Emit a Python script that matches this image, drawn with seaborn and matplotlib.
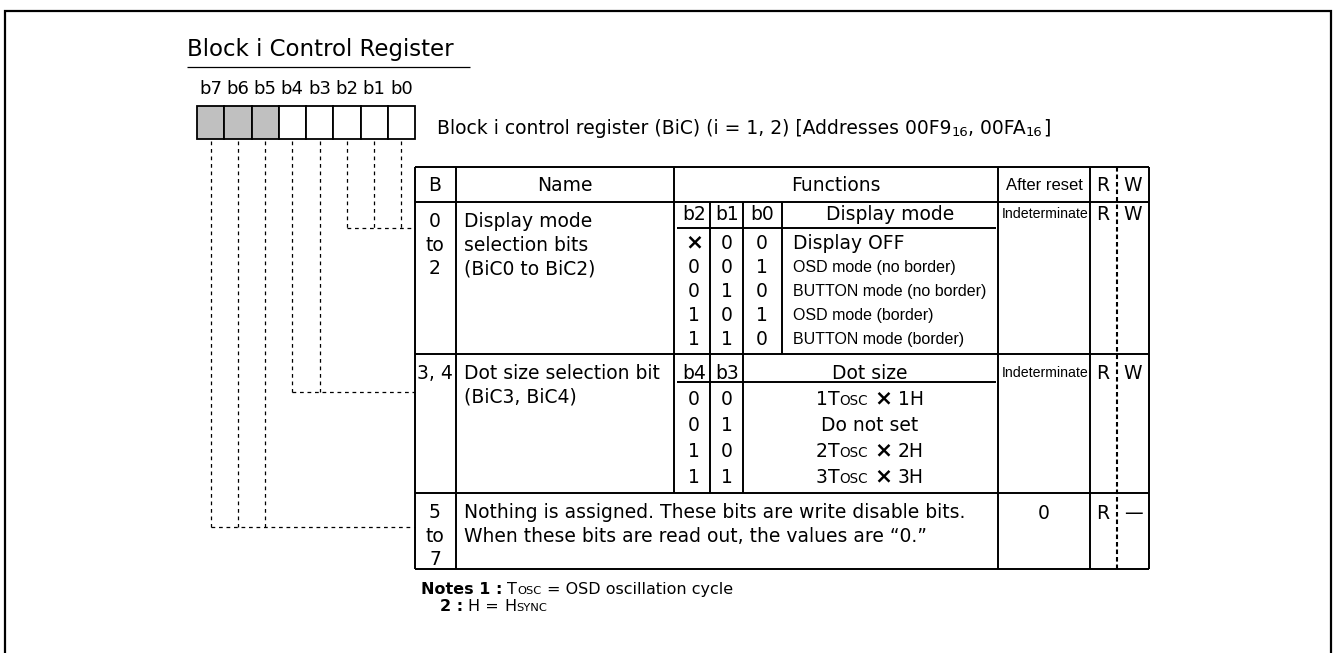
import re
import matplotlib
matplotlib.use("Agg")
import matplotlib.pyplot as plt
import seaborn as sns

sns.set_style("white")
plt.rcParams["font.family"] = ["DejaVu Sans"]

# ---- content of the register sheet ----
title = "Block i Control Register"
description = "Block i control register (BiC) (i = 1, 2) [Addresses 00F9{16}, 00FA{16}]"
bit_labels = ["b7", "b6", "b5", "b4", "b3", "b2", "b1", "b0"]
bit_reserved = [1, 1, 1, 0, 0, 0, 0, 0]

header_labels = ["B", "Name", "Functions", "After reset"]
row_bits = [["b2", "b1", "b0"], ["b4", "b3"], ["b7", "b6", "b5"]]
row_b_text = [["0", "to", "2"], ["3, 4"], ["5", "to", "7"]]
row_names = [["Display mode", "selection bits", "(BiC0 to BiC2)"],
             ["Dot size selection bit", "(BiC3, BiC4)"],
             []]
row3_text = ["Nothing is assigned. These bits are write disable bits.",
             "When these bits are read out, the values are \u201c0.\u201d"]
after_reset = ["Indeterminate", "Indeterminate", "0"]
read_write = [("R", "W"), ("R", "W"), ("R", "\u2014")]

mode_header = ["b2", "b1", "b0", "Display mode"]
mode_b2 = ["\u00d7", "0", "0", "1", "1"]
mode_b1 = ["0", "0", "1", "0", "1"]
mode_b0 = ["0", "1", "0", "1", "0"]
mode_names = ["Display OFF", "OSD mode (no border)", "BUTTON mode (no border)",
              "OSD mode (border)", "BUTTON mode (border)"]

dot_header = ["b4", "b3", "Dot size"]
dot_b4 = ["0", "0", "1", "1"]
dot_b3 = ["0", "1", "0", "1"]
dot_sizes = ["1Tosc \u00d7 1H", "Do not set", "2Tosc \u00d7 2H", "3Tosc \u00d7 3H"]

notes = [("Notes 1 :", "Tosc = OSD oscillation cycle"), ("2 :", "H = Hsync")]

# ---- layout (pixels) ----
MAIN = "DejaVu Sans"
NARROW = "Liberation Sans"
FS = 13.5
BOX_X0, BOX_W, BOX_Y0, BOX_Y1 = 197, 27.25, 106, 139
col_x = [415, 456, 674, 998, 1090, 1149]
sub_x = [710, 743, 782]
RW_X = 1117
row_y = [167, 202, 354, 493, 569]
conn_y = [228, 392, 527]

fig = plt.figure(figsize=(13.33, 6.53), dpi=100)
ax = fig.add_axes([0, 0, 1, 1])
ax.set_xlim(0, 1333)
ax.set_ylim(653, 0)
ax.axis("off")
renderer = fig.canvas.get_renderer()


def width_of(s, size, weight="normal", family=MAIN):
    t = ax.text(0, 0, s, fontsize=size, fontweight=weight, family=family)
    w = t.get_window_extent(renderer).width
    t.remove()
    return w


def runs_of(s, size, weight, family):
    out = []
    for tok in re.split(r"(Tosc|Hsync|\u00d7|\{16\})", s):
        if not tok:
            continue
        if tok == "Tosc":
            out += [("T", size, weight, family, 0), ("OSC", size * 0.72, weight, family, 0)]
        elif tok == "Hsync":
            out += [("H", size, weight, family, 0), ("SYNC", size * 0.72, weight, family, 0)]
        elif tok == "\u00d7":
            out.append(("\u00d7", size * 1.15, "bold", MAIN, 0))
        elif tok == "{16}":
            out.append(("16", size * 0.7, weight, family, 2))
        else:
            out.append((tok, size, weight, family, 0))
    return out


def put(x, y, s, size=FS, ha="left", weight="normal", family=MAIN):
    # y = vertical centre of the capitals
    base = y + 0.5 * size
    cur = x
    drawn = []
    for txt, sz, wt, fam, dy in runs_of(s, size, weight, family):
        sp = width_of("a a", sz, wt, fam) - width_of("aa", sz, wt, fam)
        core = txt.strip(" ")
        if not core:
            cur += len(txt) * sp
            continue
        cur += (len(txt) - len(txt.lstrip(" "))) * sp
        t = ax.text(cur, base + dy, core, fontsize=sz, fontweight=wt,
                    family=fam, va="baseline", ha="left", color="black")
        cur += t.get_window_extent(renderer).width
        drawn.append(t)
        cur += (len(txt) - len(txt.rstrip(" "))) * sp
    shift = {"left": 0, "center": -(cur - x) / 2, "right": -(cur - x)}[ha]
    for t in drawn:
        px, py = t.get_position()
        t.set_position((px + shift, py))
    return cur + shift


# outer frame
ax.plot([5, 5, 1331, 1331], [700, 11, 11, 700], color="black", lw=1.6,
        solid_joinstyle="miter")

# title
put(187, 48, title, size=16.5)
ax.hlines(67, 187, 470, color="black", lw=0.9)

# bit boxes
centers = [BOX_X0 + BOX_W * (i + 0.5) for i in range(len(bit_labels))]
fills = ["#c0c0c0" if r else "white" for r in bit_reserved]
ax.bar(centers, BOX_Y1 - BOX_Y0, bottom=BOX_Y0, width=BOX_W, color=fills,
       edgecolor="black", linewidth=1.3)
for c, lab in zip(centers, bit_labels):
    put(c, 88, lab, size=13, ha="center")
put(437, 127, description)

# dashed connectors
dash = (0, (3, 3))
for bits, yend in zip(row_bits, conn_y):
    xs = [centers[bit_labels.index(b)] for b in bits]
    for xv in xs:
        ax.plot([xv, xv], [141, yend], color="black", lw=0.9, linestyle=dash)
    ax.plot([min(xs), col_x[0]], [yend, yend], color="black", lw=0.9, linestyle=dash)

# table grid
LW = 1.4
ax.hlines(row_y, col_x[0], col_x[-1], color="black", lw=LW)
for xv in [col_x[0], col_x[1], col_x[3], col_x[4], col_x[5]]:
    ax.vlines(xv, row_y[0], row_y[-1], color="black", lw=LW)
ax.vlines(col_x[2], row_y[0], row_y[3], color="black", lw=LW)
ax.vlines(sub_x[:2], row_y[1], row_y[3], color="black", lw=LW)
ax.vlines(sub_x[2], row_y[1], row_y[2], color="black", lw=LW)
ax.hlines([row_y[1] + 26, row_y[2] + 28], 677, 996, color="black", lw=LW)
ax.plot([RW_X, RW_X], [row_y[0], row_y[-1]], color="black", lw=1.5,
        linestyle=(0, (2.2, 1.4)))

# header row
hy = 184
put(435, hy, header_labels[0], ha="center")
put(565, hy, header_labels[1], ha="center")
put(836, hy, header_labels[2], ha="center")
put(1044, hy, header_labels[3], size=12, ha="center", family=NARROW)
put(1103, hy, "R", ha="center")
put(1133, hy, "W", ha="center")

# B / Name columns
for r, (btxt, names) in enumerate(zip(row_b_text, row_names)):
    y0 = row_y[r + 1] + 18.5
    for i, s in enumerate(btxt):
        put(435, y0 + 23.5 * i, s, ha="center")
    for i, s in enumerate(names):
        put(464, y0 + 23.5 * i, s)
for i, s in enumerate(row3_text):
    put(464, row_y[3] + 18.5 + 23.5 * i, s)

# display mode sub-table
sub_cx = [694, 727, 762]
for cx, s in zip(sub_cx, mode_header[:3]):
    put(cx, 213, s, ha="center")
put(890, 213, mode_header[3], ha="center")
for i in range(len(mode_names)):
    y = 242 + 24 * i
    for cx, col in zip(sub_cx, [mode_b2, mode_b1, mode_b0]):
        put(cx, y, col[i], ha="center")
    if i == 0:
        put(793, y, mode_names[i])
    else:
        put(793, y, mode_names[i], size=11.5, family=NARROW)

# dot size sub-table
for cx, s in zip(sub_cx[:2], dot_header[:2]):
    put(cx, 372, s, ha="center")
put(870, 372, dot_header[2], ha="center")
for i in range(len(dot_sizes)):
    y = 398 + 26 * i
    put(sub_cx[0], y, dot_b4[i], ha="center")
    put(sub_cx[1], y, dot_b3[i], ha="center")
    put(870, y, dot_sizes[i], ha="center")

# after reset / R W
rw_y = [213, 372, 512]
for y, ar, (rr, ww) in zip(rw_y, after_reset, read_write):
    if ar == "Indeterminate":
        put(1045, y, ar, size=10.2, ha="center", family=NARROW)
    else:
        put(1044, y, ar, ha="center")
    put(1103, y, rr, ha="center")
    put(1133, y, ww, ha="center")

# notes
for (lab, txt), (nx, ny) in zip(notes, [(421, 588), (440, 605)]):
    end = put(nx, ny, lab, size=11.5, weight="bold")
    put(end + 5, ny, txt, size=11.5)

fig.savefig("out.png", dpi=100)
